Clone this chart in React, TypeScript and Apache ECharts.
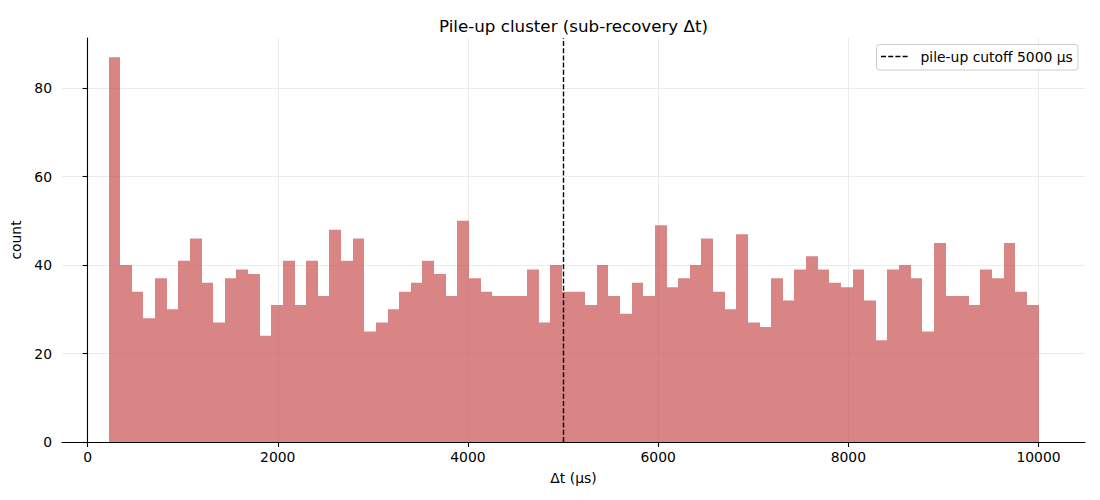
import React, { useEffect, useRef } from "react";
import * as echarts from "echarts";

// Histogram of Δt (µs): bin edges span BIN_START..BIN_END, equal widths
const BIN_START = 220;
const BIN_END = 10000;
const COUNTS = [
  87, 40, 34, 28, 37, 30, 41, 46, 36, 27,
  37, 39, 38, 24, 31, 41, 31, 41, 33, 48,
  41, 46, 25, 27, 30, 34, 36, 41, 38, 33,
  50, 37, 34, 33, 33, 33, 39, 27, 40, 34,
  34, 31, 40, 33, 29, 36, 33, 49, 35, 37,
  40, 46, 34, 30, 47, 27, 26, 37, 32, 39,
  42, 39, 36, 35, 39, 32, 23, 39, 40, 37,
  25, 45, 33, 33, 31, 39, 37, 45, 34, 31,
];
const CUTOFF = 5000;
const X_TICKS = [0, 2000, 4000, 6000, 8000, 10000];
const Y_TICKS = [0, 20, 40, 60, 80];
const TITLE = "Pile-up cluster (sub-recovery Δt)";
const X_NAME = "Δt (µs)";
const Y_NAME = "count";
const LEGEND_NAME = "pile-up cutoff 5000 µs";

const FONT = "DejaVu Sans";
const FS = 13.9;

export default function App() {
  const ref = useRef<HTMLDivElement>(null);
  useEffect(() => {
    if (!ref.current) return;
    const chart = echarts.init(ref.current, undefined, { renderer: "svg" });
    const binW = (BIN_END - BIN_START) / COUNTS.length;
    const bins = COUNTS.map((c, i) => [BIN_START + i * binW, BIN_START + (i + 1) * binW, c]);
    const span = BIN_END - BIN_START;
    const xMin = BIN_START - span * 0.05;
    const xMax = BIN_END + span * 0.05;
    const yMax = Math.max(...COUNTS) * 1.05;

    chart.setOption({
      animation: false,
      backgroundColor: "#ffffff",
      title: {
        text: TITLE,
        left: 568.5,
        textAlign: "center",
        top: 12,
        textStyle: { fontFamily: FONT, fontSize: 16.7, fontWeight: "normal", color: "#000" },
      },
      graphic: [
        {
          type: "rect",
          shape: { x: 876.5, y: 44.5, width: 201.5, height: 25.5, r: 3 },
          style: { fill: "rgba(255,255,255,0.8)", stroke: "#cccccc", lineWidth: 1 },
          z: 100,
        },
        {
          type: "line",
          shape: { x1: 881, y1: 56.5, x2: 909, y2: 56.5 },
          style: { stroke: "#000", lineWidth: 1.4, lineDash: [5, 2.2] },
          z: 101,
        },
        {
          type: "text",
          x: 920.5,
          y: 57,
          style: {
            text: LEGEND_NAME,
            fontFamily: FONT,
            fontSize: FS,
            fill: "#000",
            verticalAlign: "middle",
            align: "left",
          },
          z: 101,
        },
      ],
      grid: { left: 62, right: 15, top: 38, bottom: 58, outerBoundsMode: "none" },
      xAxis: {
        type: "value",
        min: xMin,
        max: xMax,
        name: X_NAME,
        nameLocation: "middle",
        nameGap: 29,
        nameTextStyle: { fontFamily: FONT, fontSize: FS, color: "#000" },
        axisLine: { show: true, onZero: false, lineStyle: { color: "#000", width: 1.1 } },
        axisTick: { show: true, length: 5, lineStyle: { color: "#000", width: 1.1 }, customValues: X_TICKS },
        axisLabel: {
          fontFamily: FONT,
          fontSize: FS,
          color: "#000",
          margin: 8,
          customValues: X_TICKS,
          formatter: (v: number) => String(v),
        },
        splitLine: { show: true, lineStyle: { color: "#e6e6e6", width: 0.8 } },
      },
      yAxis: {
        type: "value",
        min: 0,
        max: yMax,
        name: Y_NAME,
        nameLocation: "middle",
        nameGap: 34,
        nameRotate: 90,
        nameTextStyle: { fontFamily: FONT, fontSize: FS, color: "#000" },
        axisLine: { show: true, lineStyle: { color: "#000", width: 1.1 } },
        axisTick: { show: true, length: 5, lineStyle: { color: "#000", width: 1.1 }, customValues: Y_TICKS },
        axisLabel: {
          fontFamily: FONT,
          fontSize: FS,
          color: "#000",
          margin: 10,
          customValues: Y_TICKS,
          formatter: (v: number) => String(v),
        },
        splitLine: { show: true, lineStyle: { color: "#e6e6e6", width: 0.8 } },
      },
      series: [
        {
          type: "custom",
          name: "counts",
          z: 2,
          encode: { x: [0, 1], y: 2 },
          data: bins,
          renderItem: (_params: any, api: any) => {
            const p0 = api.coord([api.value(0), api.value(2)]);
            const p1 = api.coord([api.value(1), 0]);
            const x0 = Math.round(p0[0]);
            const x1 = Math.round(p1[0]);
            return {
              type: "rect",
              shape: { x: x0, y: p0[1], width: x1 - x0, height: p1[1] - p0[1] },
              style: { fill: "rgba(205,92,92,0.75)" },
            };
          },
          markLine: {
            silent: true,
            symbol: ["none", "none"],
            label: { show: false },
            lineStyle: { color: "#000", type: [5, 2.2], width: 1.4 },
            data: [{ xAxis: CUTOFF }],
          },
        },
      ],
    });
    return () => chart.dispose();
  }, []);
  return (
    <div
      ref={ref}
      style={{ position: "fixed", left: 0, top: 0, width: 1100, height: 500 }}
    />
  );
}
